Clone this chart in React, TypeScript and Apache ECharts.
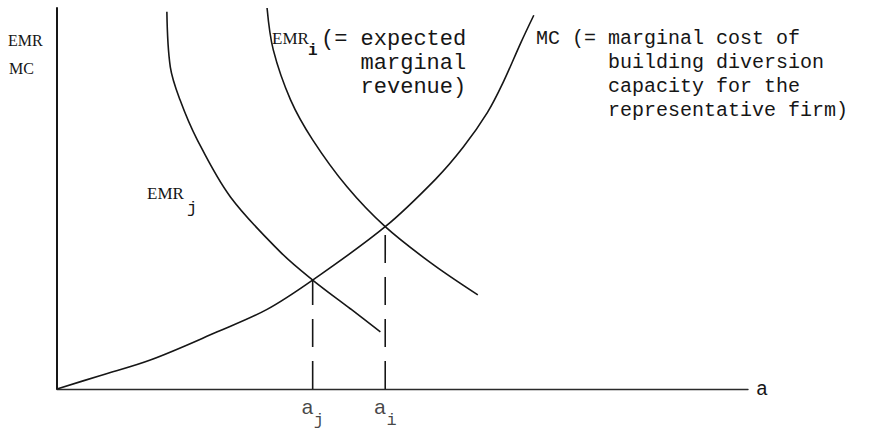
import React, { useEffect, useRef } from "react";
import * as echarts from "echarts";

// Marginal cost curve (x = diversion capacity a, y = EMR / MC)
const mcCurve: [number, number][] = [
  [0, 0], [6.2, 3.5], [13.5, 7.6], [23.2, 15.0], [30.4, 20.9], [37.0, 28.6], [47.5, 42.6],
  [54.8, 55.1], [58.8, 63.5], [62.3, 72.6], [64.6, 80.6], [67.1, 90.8], [69.0, 98.1],
];
// Expected marginal revenue, group j
const emrJCurve: [number, number][] = [
  [15.9, 99.0], [16.4, 84.5], [17.8, 75.9], [20.3, 65.4], [25.1, 50.4],
  [32.3, 36.0], [37.0, 28.6], [42.5, 21.0], [46.8, 15.0],
];
// Expected marginal revenue, group i
const emrICurve: [number, number][] = [
  [30.4, 100.0], [31.3, 89.0], [33.8, 75.9], [37.0, 65.4], [42.0, 53.0],
  [47.5, 42.6], [54.1, 33.1], [60.9, 24.7],
];
// Equilibrium points (a_j, a_i) where EMR meets MC
const equilibria: { sub: string; a: number; v: number }[] = [
  { sub: "j", a: 37.0, v: 28.6 },
  { sub: "i", a: 47.5, v: 42.6 },
];
const xAxisName = "a";

const INK = "#161616";
const MONO = '"Liberation Mono", "DejaVu Sans Mono", monospace';
const SERIF = '"Liberation Serif", "DejaVu Serif", serif';

export default function App() {
  const ref = useRef<HTMLDivElement>(null);
  useEffect(() => {
    if (!ref.current) return;
    const chart = echarts.init(ref.current, undefined, { renderer: "svg" });
    const curveStyle = { color: INK, width: 1.6 };
    const option: any = {
      animation: false,
      backgroundColor: "#ffffff",
      grid: { left: 57, right: 126, top: 8, bottom: 43, outerBoundsMode: "none" },
      xAxis: {
        type: "value", min: 0, max: 100,
        axisLine: { show: true, lineStyle: { color: "#2a2a2a", width: 1.4 } },
        axisTick: { show: false }, axisLabel: { show: false }, splitLine: { show: false },
        name: xAxisName, nameLocation: "end", nameGap: 8,
        nameTextStyle: { fontFamily: MONO, fontSize: 20, color: INK, verticalAlign: "middle" },
      },
      yAxis: {
        type: "value", min: 0, max: 100,
        axisLine: { show: true, lineStyle: { color: INK, width: 2 } },
        axisTick: { show: false }, axisLabel: { show: false }, splitLine: { show: false },
      },
      series: [
        { type: "line", data: mcCurve, smooth: 0.35, showSymbol: false, lineStyle: curveStyle, z: 3 },
        { type: "line", data: emrJCurve, smooth: 0.35, showSymbol: false, lineStyle: curveStyle, z: 3 },
        { type: "line", data: emrICurve, smooth: 0.35, showSymbol: false, lineStyle: curveStyle, z: 3 },
        ...equilibria.map((e) => ({
          type: "line", data: [[e.a, 0], [e.a, e.v]], showSymbol: false,
          lineStyle: { color: INK, width: 1.6, type: [28, 14] }, z: 2,
        })),
        {
          type: "scatter",
          data: equilibria.map((e) => ({ value: [e.a, 0], sub: e.sub })),
          symbolSize: 2, itemStyle: { color: "rgba(0,0,0,0)" },
          label: {
            show: true, position: "bottom", distance: 8, color: INK,
            formatter: (p: any) => `{b|a}{s|${p.data.sub}}`,
            rich: {
              b: { fontFamily: MONO, fontSize: 21, lineHeight: 20, verticalAlign: "top", color: INK },
              s: { fontFamily: MONO, fontSize: 17, lineHeight: 44, color: INK },
            },
          },
          z: 4,
        },
      ],
      graphic: [
        { type: "text", x: 8, y: 40, style: { text: "EMR", font: `16px ${SERIF}`, fill: INK, verticalAlign: "middle", textVerticalAlign: "middle" } },
        { type: "text", x: 9, y: 68, style: { text: "MC", font: `16px ${SERIF}`, fill: INK, verticalAlign: "middle", textVerticalAlign: "middle" } },
        { type: "text", x: 272, y: 38, style: { text: "EMR", font: `17px ${SERIF}`, fill: INK, verticalAlign: "middle", textVerticalAlign: "middle" } },
        { type: "text", x: 308, y: 51, style: { text: "i", font: `bold 16px ${MONO}`, fill: INK, verticalAlign: "middle", textVerticalAlign: "middle" } },
        { type: "text", x: 321, y: 27, style: { text: "(= expected\n   marginal\n   revenue)", font: `22px ${MONO}`, lineHeight: 24, fill: INK, verticalAlign: "top", textVerticalAlign: "top" } },
        { type: "text", x: 536, y: 26, style: { text: "MC (= marginal cost of\n      building diversion\n      capacity for the\n      representative firm)", font: `20px ${MONO}`, lineHeight: 24, fill: INK, verticalAlign: "top", textVerticalAlign: "top" } },
        { type: "text", x: 147, y: 193, style: { text: "EMR", font: `17px ${SERIF}`, fill: INK, verticalAlign: "middle", textVerticalAlign: "middle" } },
        { type: "text", x: 187, y: 208, style: { text: "j", font: `17px ${MONO}`, fill: INK, verticalAlign: "middle", textVerticalAlign: "middle" } },
      ],
    };
    chart.setOption(option);
    return () => chart.dispose();
  }, []);
  return (
    <div
      ref={ref}
      style={{ position: "fixed", left: 0, top: 0, width: 874, height: 432, background: "#fff" }}
    />
  );
}
